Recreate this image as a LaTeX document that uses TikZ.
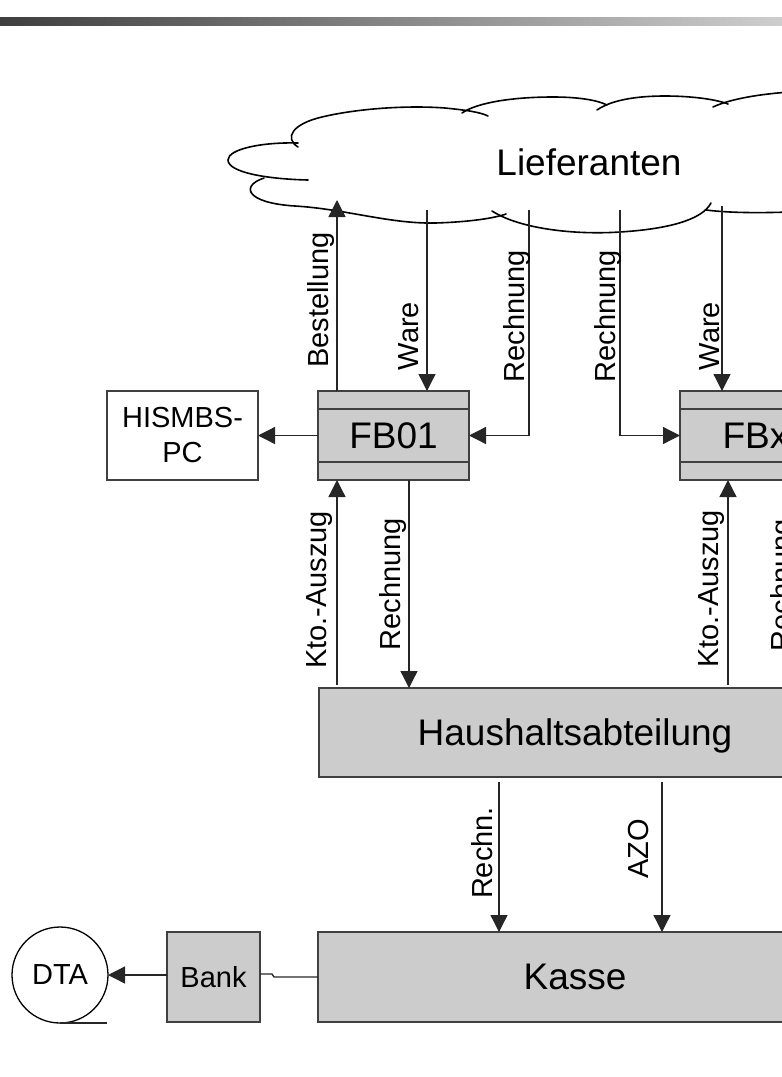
\documentclass[tikz,border=0pt]{standalone}
\usepackage{fontspec}
\setmainfont{Liberation Sans}
\usetikzlibrary{arrows.meta}
\definecolor{boxfill}{HTML}{CCCCCC}
\definecolor{edge}{HTML}{404040}
\definecolor{barleft}{HTML}{3E3E3E}
\definecolor{barright}{HTML}{CECECE}
\begin{document}
\begin{tikzpicture}[x=1pt,y=-1pt,
  big/.style={font=\fontsize{37}{44}\selectfont},
  small/.style={font=\fontsize{29}{35}\selectfont},
  unit/.style={draw=edge, line width=1.5pt, fill=boxfill, inner sep=0pt,
    outer sep=0pt, text depth=0pt, big},
  fbbox/.style={unit, minimum width=151pt, minimum height=89pt},
  divider/.style={draw=edge, line width=1.5pt},
  conn/.style={draw=black!85, line width=1.3pt},
  arr/.style={conn, -{Triangle[length=17pt,width=17pt]}},
  vlabel/.style={small, rotate=90, anchor=base, inner sep=0pt},
  cloudline/.style={draw=black, line width=1.6pt, line cap=round}
]
\useasboundingbox (0,0) rectangle (782,1077);
\clip (0,0) rectangle (782,1077);

% header bar
\shade[left color=barleft, right color=barright] (0,17) rectangle (782,25);

% supplier cloud, drawn as overlapping bumps
\draw[cloudline] (298,143) .. controls (262,142) and (228,149) .. (228,160)
  .. controls (228,172) and (265,179) .. (308,180);
\draw[cloudline] (298,147) .. controls (284,138) and (292,124) .. (322,117)
  .. controls (355,109) and (405,105) .. (445,108)
  .. controls (465,110) and (480,112) .. (488,116);
\draw[cloudline] (462,113) .. controls (478,102) and (515,97) .. (553,97)
  .. controls (578,97) and (597,100) .. (607,105);
\draw[cloudline] (597,110) .. controls (613,99) and (640,96) .. (665,96)
  .. controls (690,96) and (715,99) .. (728,104);
\draw[cloudline] (713,107) .. controls (730,99) and (760,94) .. (790,92);
\draw[cloudline] (264,178) .. controls (240,186) and (246,203) .. (295,206)
  .. controls (345,209) and (390,224) .. (435,223)
  .. controls (470,222) and (495,218) .. (506,214);
\draw[cloudline] (492,211) .. controls (520,229) and (575,235) .. (620,232)
  .. controls (668,229) and (702,220) .. (711,203);
\draw[cloudline] (706,210) .. controls (730,213) and (760,213) .. (790,212);
\node[big] (lief) at (589,162) {Lieferanten};

% units
\node[fbbox] (fb01) at (393.5,435.5) {FB01};
\node[fbbox] (fbx) at (755.5,435.5) {FBx};
\foreach \b in {fb01,fbx} {
  \draw[divider] ([yshift=-18pt]\b.north west) -- ([yshift=-18pt]\b.north east);
  \draw[divider] ([yshift=18pt]\b.south west) -- ([yshift=18pt]\b.south east);
}
\node[draw=edge, line width=1.5pt, fill=white, small, minimum width=151pt,
  minimum height=89pt, align=center, inner sep=0pt, outer sep=0pt] (pc)
  at (182.5,435.5) {HISMBS-\\PC};
\node[unit, minimum width=512pt, minimum height=89pt] (haus) at (575,732.5)
  {Haushaltsabteilung};
\node[unit, minimum width=514pt, minimum height=90pt] (kasse) at (575,977) {Kasse};
\node[unit, small, minimum width=93pt, minimum height=90pt] (bank) at (213.5,977) {Bank};
\node[draw=black, line width=1.3pt, circle, minimum size=96pt, small,
  inner sep=0pt, outer sep=0pt] (dta) at (60,975) {DTA};
\draw[conn] (dta.south) -- ++(47,0) coordinate (tapeend);

% connector columns
\coordinate (cBest) at (337,200);
\coordinate (cWare) at (427,210);
\coordinate (cRe) at (529,210);
\coordinate (cReX) at (620,210);
\coordinate (cWareX) at (722,206);
\coordinate (cKto) at (337,0);
\coordinate (cRd) at (409,0);
\coordinate (cKtoX) at (728,0);
\coordinate (cRdX) at (800,0);
\coordinate (cRechn) at (499,0);
\coordinate (cAzo) at (662,0);

% flows between suppliers and units
\draw[arr] (cBest |- fb01.north) -- (cBest);
\draw[arr] (cWare) -- (cWare |- fb01.north);
\draw[arr] (cRe) -- (cRe |- fb01.east) -- (fb01.east);
\draw[arr] (cReX) -- (cReX |- fbx.west) -- (fbx.west);
\draw[arr] (cWareX) -- (cWareX |- fbx.north);
\draw[arr] (fb01.west) -- (pc.east);

% flows between units and budget department
\draw[arr, shorten <=3pt] (cKto |- haus.north) -- (cKto |- fb01.south);
\draw[arr] (cRd |- fb01.south) -- (cRd |- haus.north);
\draw[arr, shorten <=3pt] (cKtoX |- haus.north) -- (cKtoX |- fbx.south);
\draw[arr] (cRdX |- fbx.south) -- (cRdX |- haus.north);

% flows to the cash office and bank
\draw[arr, shorten <=5pt] (cRechn |- haus.south) -- (cRechn |- kasse.north);
\draw[arr, shorten <=5pt] (cAzo |- haus.south) -- (cAzo |- kasse.north);
\draw[conn] (kasse.west) -- ++(-44,0) -- ++(-2,-3) coordinate (jog) -- (jog -| bank.east);
\draw[arr] (bank.west |- dta.east) -- (dta.east);

% flow labels
\node[vlabel] (lBest) at (328,300) {Bestellung};
\node[vlabel] (lWare) at (418,336) {Ware};
\node[vlabel] (lRe) at (524,316) {Rechnung};
\node[vlabel] (lReX) at (615,316) {Rechnung};
\node[vlabel] (lWareX) at (719,336) {Ware};
\node[vlabel] (lKto) at (326,590) {Kto.-Auszug};
\node[vlabel] (lRd) at (400,584) {Rechnung};
\node[vlabel] (lKtoX) at (718,589) {Kto.-Auszug};
\node[vlabel] (lRdX) at (791,585) {Rechnung};
\node[vlabel] (lRechn) at (492,853) {Rechn.};
\node[vlabel] (lAzo) at (648,849) {AZO};
\end{tikzpicture}
\end{document}
